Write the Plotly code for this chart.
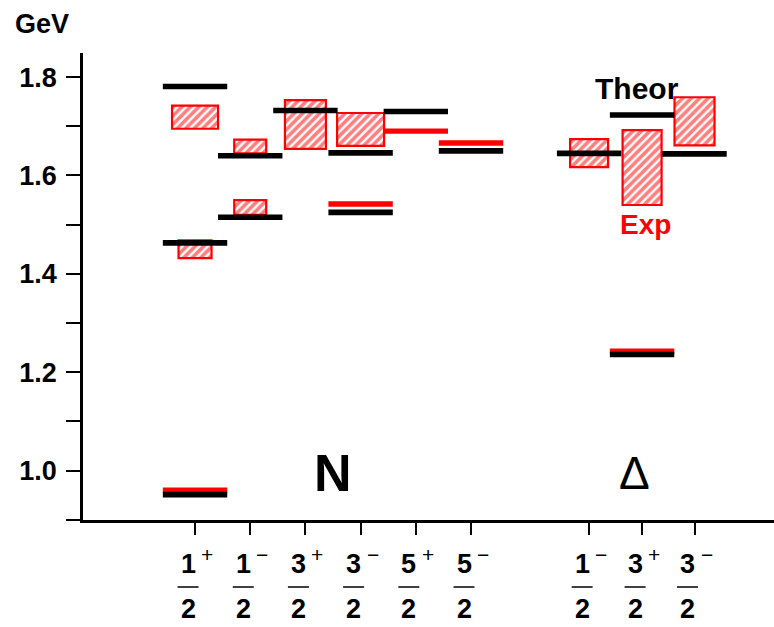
import plotly.graph_objects as go

# ---- data ----
spin_num = ["1", "1", "3", "3", "5", "5", "1", "3", "3"]
parity = ["+", "−", "+", "−", "+", "−", "−", "+", "−"]
cat_x = [1, 2, 3, 4, 5, 6, 8.14, 9.1, 10.05]

theory_cat = [0, 0, 0, 1, 1, 2, 3, 3, 4, 5, 6, 7, 7, 8]
theory_mass = [1.781, 1.463, 0.951, 1.640, 1.515, 1.732, 1.646, 1.525,
               1.730, 1.650, 1.645, 1.723, 1.236, 1.644]

exp_line_cat = [0, 3, 4, 5, 7]
exp_line_mass = [0.960, 1.542, 1.690, 1.666, 1.243]

exp_box_cat = [0, 0, 1, 1, 2, 3, 6, 7, 8]
exp_box_lo = [1.695, 1.432, 1.645, 1.520, 1.654, 1.660, 1.617, 1.540, 1.661]
exp_box_hi = [1.742, 1.468, 1.673, 1.550, 1.753, 1.727, 1.674, 1.692, 1.759]
box_px_width = [46, 33, 32, 32, 41, 47, 38, 39, 40]

y_tick_vals = [0.9, 1.0, 1.1, 1.2, 1.3, 1.4, 1.5, 1.6, 1.7, 1.8]
y_tick_text = ["", "1.0", "", "1.2", "", "1.4", "", "1.6", "", "1.8"]

# ---- layout geometry ----
W, H = 774, 627
ML, MR, MT, MB = 83, 0, 53, 107
XR = [-1.03, 11.49]
YR = [0.8995, 1.849]
plot_w = W - ML - MR
px_per_unit = plot_w / (XR[1] - XR[0])

FONT = "Liberation Sans, Arial, Helvetica"

fig = go.Figure()

# experimental ranges (hatched boxes)
fig.add_trace(go.Bar(
    x=[cat_x[c] for c in exp_box_cat],
    y=[h - l for l, h in zip(exp_box_lo, exp_box_hi)],
    base=exp_box_lo,
    width=[w / px_per_unit for w in box_px_width],
    marker=dict(color="white", line=dict(color="#ff0000", width=2.2),
                pattern=dict(shape="/", fgcolor="#ff0000", bgcolor="white",
                             size=6, solidity=0.6)),
    hoverinfo="skip", showlegend=False))

# experimental narrow states (red lines)
fig.add_trace(go.Scatter(
    x=[cat_x[c] for c in exp_line_cat], y=exp_line_mass, mode="markers",
    marker=dict(symbol="line-ew", size=46,
                line=dict(color="#ff0000", width=5.3)),
    hoverinfo="skip", showlegend=False))

# theory (black lines)
fig.add_trace(go.Scatter(
    x=[cat_x[c] for c in theory_cat], y=theory_mass, mode="markers",
    marker=dict(symbol="line-ew", size=46,
                line=dict(color="black", width=5.6)),
    hoverinfo="skip", showlegend=False))

fig.update_layout(
    width=W, height=H,
    margin=dict(l=ML, r=MR, t=MT, b=MB, pad=0),
    paper_bgcolor="white", plot_bgcolor="white",
    barmode="overlay", hovermode=False,
    xaxis=dict(range=XR, showgrid=False, zeroline=False,
               showline=True, linecolor="black", linewidth=2.5,
               ticks="outside", ticklen=12, tickwidth=2, tickcolor="black",
               tickvals=cat_x, showticklabels=False),
    yaxis=dict(range=YR, showgrid=False, zeroline=False,
               showline=True, linecolor="black", linewidth=2.5,
               ticks="outside", ticklen=14, tickwidth=2, tickcolor="black",
               tickvals=y_tick_vals, ticktext=y_tick_text,
               ticklabelstandoff=4,
               tickfont=dict(family=FONT, size=27, weight="bold",
                             color="black")),
)

digit_font = dict(family=FONT, size=27, color="black", weight="bold")
sup_font = dict(family=FONT, size=21, color="black")

annotations = []
shapes = []
for x, n, p in zip(cat_x, spin_num, parity):
    annotations.append(dict(x=x, y=0, xref="x", yref="paper", text=n,
                            showarrow=False, xanchor="center", yanchor="middle",
                            xshift=-7, yshift=-44, font=digit_font))
    annotations.append(dict(x=x, y=0, xref="x", yref="paper", text="2",
                            showarrow=False, xanchor="center", yanchor="middle",
                            xshift=-7, yshift=-89, font=digit_font))
    annotations.append(dict(x=x, y=0, xref="x", yref="paper", text=p,
                            showarrow=False, xanchor="center", yanchor="middle",
                            xshift=12, yshift=-34, font=sup_font))
    bar_y = -(587 - (H - MB)) / (H - MT - MB)
    shapes.append(dict(type="line", xref="x", yref="paper",
                       x0=x - (7 + 10.5) / px_per_unit,
                       x1=x - (7 - 10.5) / px_per_unit,
                       y0=bar_y, y1=bar_y,
                       line=dict(color="black", width=1.5)))

annotations += [
    dict(x=0, y=1, xref="paper", yref="paper", text="GeV", showarrow=False,
         xanchor="left", yanchor="middle", xshift=-70, yshift=29,
         font=dict(family=FONT, size=27, weight="bold", color="black")),
    dict(x=3.5, y=0.996, xref="x", yref="y", text="N", showarrow=False,
         xanchor="center", yanchor="middle",
         font=dict(family=FONT, size=52, weight="bold", color="black")),
    dict(x=8.97, y=0.996, xref="x", yref="y", text="Δ", showarrow=False,
         xanchor="center", yanchor="middle",
         font=dict(family=FONT, size=46, color="black")),
    dict(x=9.0, y=1.776, xref="x", yref="y", text="Theor", showarrow=False,
         xanchor="center", yanchor="middle",
         font=dict(family=FONT, size=30, weight="bold", color="black")),
    dict(x=9.16, y=1.4995, xref="x", yref="y", text="Exp", showarrow=False,
         xanchor="center", yanchor="middle",
         font=dict(family=FONT, size=28, weight="bold", color="#ff0000")),
]

fig.update_layout(annotations=annotations, shapes=shapes)
fig.write_html("out.html")
